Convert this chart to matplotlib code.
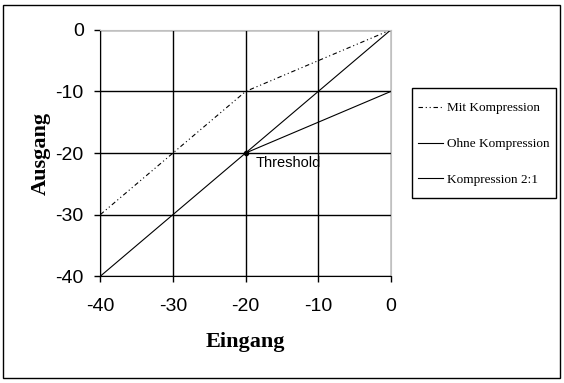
import matplotlib
matplotlib.use("Agg")
import matplotlib.pyplot as plt
from matplotlib.patches import Rectangle

plt.rcParams['axes.unicode_minus'] = False

# data
mit_x = [-40, -30, -20, -10, 0]
mit_y = [-30, -20, -10, -5, 0]
ohne_x = [-40, -30, -20, -10, 0]
ohne_y = [-40, -30, -20, -10, 0]
komp_x = [-20, -10, 0]
komp_y = [-20, -15, -10]
threshold = (-20, -20)
ticks = [-40, -30, -20, -10, 0]

fig = plt.figure(figsize=(5.64, 3.83), dpi=100)
ax = fig.add_axes([0.178, 0.279, 0.515, 0.643])

ax.plot(mit_x, mit_y, color='black', lw=0.8, ls=(0, (4, 2.5, 1, 2.5, 1, 2.5)),
        label='Mit Kompression')
ax.plot(ohne_x, ohne_y, color='black', lw=0.8, label='Ohne Kompression')
ax.plot(komp_x, komp_y, color='black', lw=0.8, label='Kompression 2:1')
ax.plot(*threshold, 'o', color='black', ms=3)
ax.annotate('Threshold', threshold, xytext=(7, -7), textcoords='offset points',
            fontsize=10.5, family='Liberation Sans', va='center')

ax.set_xlim(-40, 0)
ax.set_ylim(-40, 0)
ax.set_xticks(ticks)
ax.set_yticks(ticks)
ax.grid(True, color='black', lw=1)
ax.set_axisbelow(True)
for s in ['top', 'right']:
    ax.spines[s].set_color('#c0c0c0')
for s in ['left', 'bottom']:
    ax.spines[s].set_color('black')
ax.tick_params(axis='x', length=4, width=1, pad=12, labelsize=14)
ax.tick_params(axis='y', length=4, width=1, pad=8, labelsize=14)
for lab in ax.get_xticklabels() + ax.get_yticklabels():
    lab.set_family('Liberation Sans')

ax.set_xlabel('Eingang', family='Liberation Serif', weight='bold', fontsize=16, labelpad=12)
ax.set_ylabel('Ausgang', family='Liberation Serif', weight='bold', fontsize=16, labelpad=3)

fig.legend(loc='center left', bbox_to_anchor=(418 / 564, 0.624),
           prop={'family': 'Liberation Serif', 'size': 9.5},
           frameon=False, handlelength=1.9, handletextpad=0.3,
           labelspacing=1.8, borderpad=0, borderaxespad=0)

# legend box
fig.patches.append(Rectangle((412 / 564, 1 - 198 / 383), 144 / 564, 110 / 383,
                             transform=fig.transFigure, fill=False,
                             edgecolor='black', lw=1))
# outer border
fig.patches.append(Rectangle((3 / 564, 5 / 383), 557 / 564, 373 / 383,
                             transform=fig.transFigure, fill=False,
                             edgecolor='black', lw=1))

fig.savefig('out.png', dpi=100)
